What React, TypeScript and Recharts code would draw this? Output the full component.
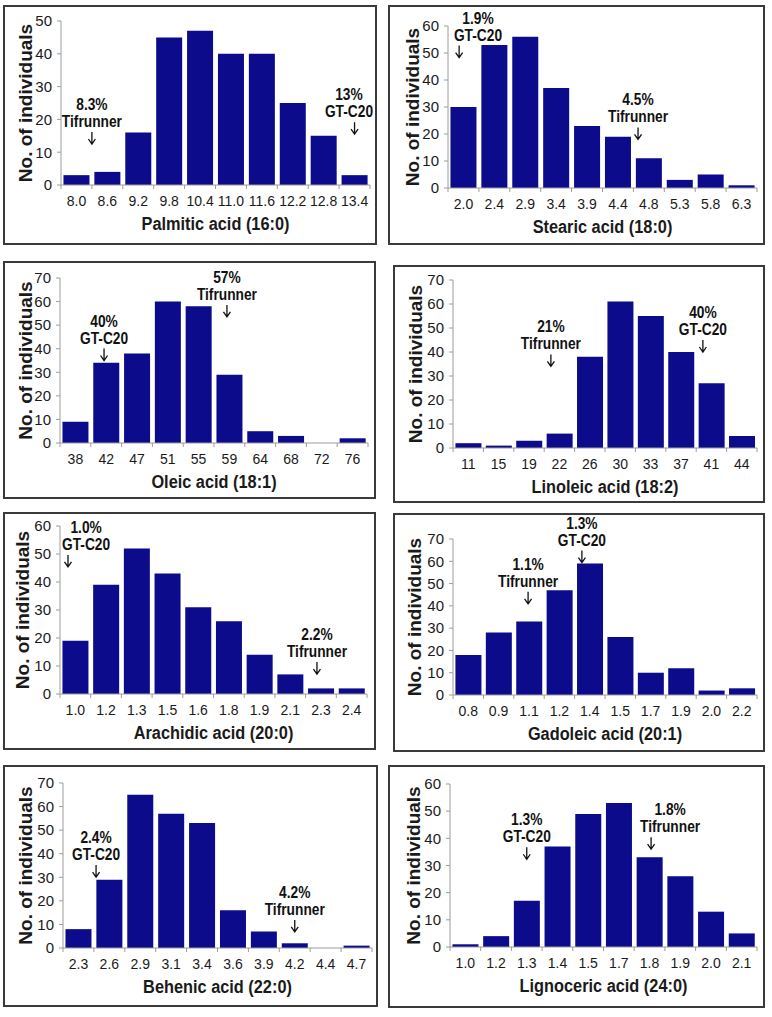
import React from 'react';
import { BarChart, Bar, XAxis, YAxis, ReferenceDot } from 'recharts';

const BAR = '#0b0b8c';
const AXIS = '#9c9c9c';
const INK = '#1a1a1a';
const FONT = '"Liberation Sans", Arial, sans-serif';
const BORDER = 2;

// bin labels (x ticks) and counts, one pair per fatty acid
const palmiticBins = ['8.0', '8.6', '9.2', '9.8', '10.4', '11.0', '11.6', '12.2', '12.8', '13.4'];
const palmiticCounts = [3, 4, 16, 45, 47, 40, 40, 25, 15, 3];

const stearicBins = ['2.0', '2.4', '2.9', '3.4', '3.9', '4.4', '4.8', '5.3', '5.8', '6.3'];
const stearicCounts = [30, 53, 56, 37, 23, 19, 11, 3, 5, 1];

const oleicBins = ['38', '42', '47', '51', '55', '59', '64', '68', '72', '76'];
const oleicCounts = [9, 34, 38, 60, 58, 29, 5, 3, 0, 2];

const linoleicBins = ['11', '15', '19', '22', '26', '30', '33', '37', '41', '44'];
const linoleicCounts = [2, 1, 3, 6, 38, 61, 55, 40, 27, 5];

const arachidicBins = ['1.0', '1.2', '1.3', '1.5', '1.6', '1.8', '1.9', '2.1', '2.3', '2.4'];
const arachidicCounts = [19, 39, 52, 43, 31, 26, 14, 7, 2, 2];

const gadoleicBins = ['0.8', '0.9', '1.1', '1.2', '1.4', '1.5', '1.7', '1.9', '2.0', '2.2'];
const gadoleicCounts = [18, 28, 33, 47, 59, 26, 10, 12, 2, 3];

const behenicBins = ['2.3', '2.6', '2.9', '3.1', '3.4', '3.6', '3.9', '4.2', '4.4', '4.7'];
const behenicCounts = [8, 29, 65, 57, 53, 16, 7, 2, 0, 1];

const lignocericBins = ['1.0', '1.2', '1.3', '1.4', '1.5', '1.7', '1.8', '1.9', '2.0', '2.1'];
const lignocericCounts = [1, 4, 17, 37, 49, 53, 33, 26, 13, 5];

// parent annotations: pos = bin position of the arrow (0 = first bin),
// at = count the arrow points to, textPos = bin position of the label centre when it differs
const palmiticNotes = [
  { pos: 0.5, at: 12.5, pct: '8.3%', name: 'Tifrunner' },
  { pos: 9, at: 15.5, pct: '13%', name: 'GT-C20', textPos: 8.82 },
];
const stearicNotes = [
  { pos: -0.14, at: 48.3, pct: '1.9%', name: 'GT-C20', textPos: 0.47 },
  { pos: 5.65, at: 18, pct: '4.5%', name: 'Tifrunner' },
];
const oleicNotes = [
  { pos: 0.93, at: 35, pct: '40%', name: 'GT-C20' },
  { pos: 4.92, at: 53.5, pct: '57%', name: 'Tifrunner' },
];
const linoleicNotes = [
  { pos: 2.72, at: 34, pct: '21%', name: 'Tifrunner' },
  { pos: 7.72, at: 40, pct: '40%', name: 'GT-C20' },
];
const arachidicNotes = [
  { pos: -0.24, at: 45.4, pct: '1.0%', name: 'GT-C20', textPos: 0.35 },
  { pos: 7.87, at: 7.1, pct: '2.2%', name: 'Tifrunner' },
];
const gadoleicNotes = [
  { pos: 1.97, at: 40.9, pct: '1.1%', name: 'Tifrunner' },
  { pos: 3.74, at: 59.4, pct: '1.3%', name: 'GT-C20' },
];
const behenicNotes = [
  { pos: 0.57, at: 30.1, pct: '2.4%', name: 'GT-C20' },
  { pos: 7.0, at: 6.8, pct: '4.2%', name: 'Tifrunner' },
];
const lignocericNotes = [
  { pos: 2.0, at: 32.3, pct: '1.3%', name: 'GT-C20' },
  { pos: 6.05, at: 36, pct: '1.8%', name: 'Tifrunner', textPos: 6.67 },
];

const panels = [
  { title: 'Palmitic acid (16:0)', bins: palmiticBins, counts: palmiticCounts, yMax: 50, notes: palmiticNotes },
  { title: 'Stearic acid (18:0)', bins: stearicBins, counts: stearicCounts, yMax: 60, notes: stearicNotes },
  { title: 'Oleic acid (18:1)', bins: oleicBins, counts: oleicCounts, yMax: 70, notes: oleicNotes },
  { title: 'Linoleic acid (18:2)', bins: linoleicBins, counts: linoleicCounts, yMax: 70, notes: linoleicNotes },
  { title: 'Arachidic acid (20:0)', bins: arachidicBins, counts: arachidicCounts, yMax: 60, notes: arachidicNotes },
  { title: 'Gadoleic acid (20:1)', bins: gadoleicBins, counts: gadoleicCounts, yMax: 70, notes: gadoleicNotes },
  { title: 'Behenic acid (22:0)', bins: behenicBins, counts: behenicCounts, yMax: 70, notes: behenicNotes },
  { title: 'Lignoceric acid (24:0)', bins: lignocericBins, counts: lignocericCounts, yMax: 60, notes: lignocericNotes },
];

// page layout: frame box and plot area (page px) for each panel
const layout = [
  { box: { x: 3, y: 5, w: 374, h: 240 }, plot: { l: 61, t: 21, r: 370, b: 185 }, labX: 25 },
  { box: { x: 388, y: 5, w: 377, h: 240 }, plot: { l: 448, t: 26, r: 757, b: 188 }, labX: 412 },
  { box: { x: 3, y: 261, w: 373, h: 238 }, plot: { l: 60, t: 278, r: 368, b: 443 }, labX: 25 },
  { box: { x: 393, y: 265, w: 372, h: 238 }, plot: { l: 453, t: 280, r: 757, b: 448 }, labX: 415 },
  { box: { x: 3, y: 512, w: 373, h: 238 }, plot: { l: 60, t: 526, r: 367, b: 694 }, labX: 22 },
  { box: { x: 393, y: 513, w: 372, h: 239 }, plot: { l: 453, t: 539, r: 757, b: 695 }, labX: 414 },
  { box: { x: 3, y: 765, w: 375, h: 242 }, plot: { l: 63, t: 783, r: 372, b: 948 }, labX: 25 },
  { box: { x: 388, y: 765, w: 377, h: 243 }, plot: { l: 450, t: 784, r: 757, b: 947 }, labX: 413 },
];

function BinTick(props: any) {
  const { x, y, payload, bins, half } = props;
  const i = payload.value;
  return (
    <g>
      <line x1={x - half} x2={x - half} y1={y} y2={y + 4} stroke={AXIS} />
      {i === bins.length - 1 && <line x1={x + half} x2={x + half} y1={y} y2={y + 4} stroke={AXIS} />}
      <text x={x} y={y + 21} textAnchor="middle" fontSize={14} fill={INK} fontFamily={FONT}>
        {bins[i]}
      </text>
    </g>
  );
}

function Title({ tx, ty, text }: any) {
  return (
    <text
      transform={`translate(${tx},${ty}) scale(0.86,1)`}
      textAnchor="middle"
      fontSize={19}
      fontWeight="bold"
      fontFamily={FONT}
      fill={INK}
    >
      {text}
    </text>
  );
}

function YTitle({ tx, ty }: any) {
  return (
    <text
      x={tx}
      y={ty}
      dy="0.36em"
      transform={`rotate(-90,${tx},${ty})`}
      textAnchor="middle"
      fontSize={19}
      fontWeight="bold"
      fontFamily={FONT}
      fill={INK}
    >
      No. of individuals
    </text>
  );
}

function Note({ cx, cy, tx, pct, name }: any) {
  const txt = (y: number, s: string) => (
    <text
      transform={`translate(${tx},${y}) scale(0.86,1)`}
      textAnchor="middle"
      fontSize={16}
      fontWeight="bold"
      fontFamily={FONT}
      fill="#111"
    >
      {s}
    </text>
  );
  return (
    <g>
      {txt(cy - 34, pct)}
      {txt(cy - 17, name)}
      <path
        d={`M${cx},${cy - 12}V${cy}M${cx - 3.5},${cy - 5}L${cx},${cy}L${cx + 3.5},${cy - 5}`}
        stroke="#111"
        strokeWidth={1.3}
        fill="none"
      />
    </g>
  );
}

function Panel({ p, lay }: any) {
  const { box, plot, labX } = lay;
  const innerW = box.w - 2 * BORDER;
  const innerH = box.h - 2 * BORDER;
  const ox = box.x + BORDER;
  const oy = box.y + BORDER;
  const XH = 30;
  const left = plot.l - ox;
  const top = plot.t - oy;
  const right = innerW - (plot.r - ox);
  const bottom = innerH - (plot.b - oy) - XH;
  const band = (plot.r - plot.l) / p.bins.length;
  const data = p.counts.map((v: number, i: number) => ({ i, v }));

  return (
    <div
      style={{
        position: 'absolute',
        left: box.x,
        top: box.y,
        width: box.w,
        height: box.h,
        border: `${BORDER}px solid #3a3a3a`,
        boxSizing: 'border-box',
        background: '#fff',
      }}
    >
      <BarChart width={innerW} height={innerH} data={data} margin={{ top, right, bottom, left: 0 }} barCategoryGap="8%">
        <XAxis
          type="number"
          dataKey="i"
          domain={[-0.5, p.bins.length - 0.5]}
          ticks={p.bins.map((_: string, i: number) => i)}
          interval={0}
          tickLine={false}
          tickSize={0}
          tickMargin={0}
          height={XH}
          stroke={AXIS}
          tick={<BinTick bins={p.bins} half={band / 2} />}
          label={<Title tx={(plot.l + plot.r) / 2 - ox} ty={plot.b - oy + 45} text={p.title} />}
        />
        <YAxis
          type="number"
          width={left}
          domain={[0, p.yMax]}
          tickCount={p.yMax / 10 + 1}
          allowDecimals={false}
          stroke={AXIS}
          tickSize={4}
          tickMargin={5}
          tick={{ fontSize: 15, fill: INK, fontFamily: FONT }}
          label={<YTitle tx={labX - ox} ty={(plot.t + plot.b) / 2 - oy} />}
        />
        <Bar dataKey="v" fill={BAR} isAnimationActive={false} />
        {p.notes.map((n: any, k: number) => (
          <ReferenceDot
            key={k}
            x={n.pos}
            y={n.at}
            r={0}
            ifOverflow="visible"
            shape={(s: any) => (
              <Note
                cx={s.cx}
                cy={s.cy}
                tx={s.cx + ((n.textPos ?? n.pos) - n.pos) * band}
                pct={n.pct}
                name={n.name}
              />
            )}
          />
        ))}
      </BarChart>
    </div>
  );
}

export default function App() {
  return (
    <div style={{ position: 'absolute', left: 0, top: 0, width: 772, height: 1017, background: '#fff' }}>
      {panels.map((p, k) => (
        <Panel key={k} p={p} lay={layout[k]} />
      ))}
    </div>
  );
}
